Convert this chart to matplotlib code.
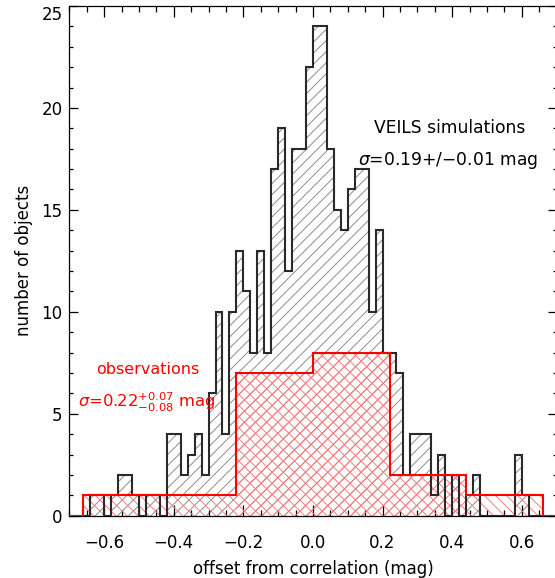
import matplotlib

matplotlib.use("Agg")
import matplotlib.pyplot as plt
import numpy as np
from matplotlib.ticker import FixedLocator, MultipleLocator

# VEILS simulations: counts in 0.02 mag bins from -0.70 to 0.70
sim_edges = np.linspace(-0.70, 0.70, 71)
sim_counts = [0, 0, 0, 1, 1, 0, 1, 2, 2, 1,
              0, 1, 1, 0, 4, 4, 2, 3, 4, 2,
              6, 10, 4, 10, 13, 11, 8, 13, 8, 17,
              19, 12, 18, 18, 22, 24, 24, 18, 15, 14,
              16, 17, 17, 10, 14, 8, 8, 7, 2, 4,
              4, 4, 1, 3, 0, 2, 0, 1, 2, 0,
              0, 0, 0, 0, 3, 1, 0, 0, 0, 0]

# observations: 0.22 mag bins
obs_edges = [-0.66, -0.44, -0.22, 0.00, 0.22, 0.44, 0.66]
obs_counts = [1, 1, 7, 8, 2, 1]
obs_cross = [False, False, True, True, True, False]   # bins with cross hatching

xlim = (-0.70, 0.70)
xtick_values = [-0.6, -0.4, -0.2, 0.0, 0.2, 0.4, 0.6]
xtick_labels = ["\u22120.6", "\u22120.4", "\u22120.2", "0.0", "0.2", "0.4", "0.6"]
ytick_values = [0, 5, 10, 15, 20, 25]

plt.rcParams["hatch.linewidth"] = 0.7
fig = plt.figure(figsize=(5.55, 5.78), dpi=100)
ax = fig.add_axes([0.125, 0.1078, 0.8778, 0.8818])
ax.set_xlim(*xlim)
ax.set_ylim(0, 25)

# hatched fills
ax.stairs(sim_counts, sim_edges, fill=True, facecolor="none",
          edgecolor="#8c8c8c", hatch="///", lw=0, zorder=1)
ax.stairs(obs_counts, obs_edges, fill=True, facecolor="none",
          edgecolor="#ff7a7a", hatch="\\\\\\", lw=0, zorder=2)
ax.stairs(np.where(obs_cross, obs_counts, 0), obs_edges, fill=True,
          facecolor="none", edgecolor="#ff7a7a", hatch="///", lw=0, zorder=2)

# outlines
ax.stairs(sim_counts, sim_edges, color="#2a2a2a", lw=1.5, zorder=3)
red_edges = np.concatenate([[xlim[0]], obs_edges, [xlim[1]]])
red_counts = np.concatenate([[0], obs_counts, [0]])
ax.stairs(red_counts, red_edges, color="red", lw=1.5, zorder=4)

ax.xaxis.set_major_locator(FixedLocator(xtick_values))
ax.set_xticklabels(xtick_labels)
ax.xaxis.set_minor_locator(MultipleLocator(0.05))
ax.yaxis.set_major_locator(FixedLocator(ytick_values))
ax.yaxis.set_minor_locator(MultipleLocator(1))
ax.tick_params(which="both", direction="in", top=True, right=True,
               labelsize=12, width=0.9)
ax.tick_params(axis="x", which="major", length=8, pad=13)
ax.tick_params(axis="x", which="minor", length=4.3)
ax.tick_params(axis="y", which="major", length=6.5, pad=5)
ax.tick_params(axis="y", which="minor", length=3)
ax.get_yticklabels()[-1].set_verticalalignment("top")
for s in ax.spines.values():
    s.set_linewidth(0.9)

ax.set_xlabel("offset from correlation (mag)", fontsize=12, labelpad=6)
ax.set_ylabel("number of objects", fontsize=12, labelpad=6)

ax.text(0.394, 19.0, "VEILS simulations", fontsize=12.3, ha="center", va="center")
ax.text(0.388, 17.4, r"$\sigma$=0.19+/$-$0.01 mag", fontsize=12.3,
        ha="center", va="center")
ax.text(-0.475, 7.15, "observations", fontsize=11.5, color="red",
        ha="center", va="center")
ax.text(-0.675, 5.55, r"$\sigma$=0.22$^{+0.07}_{-0.08}$ mag", fontsize=11.8,
        color="red", ha="left", va="center")

fig.savefig("out.png", dpi=100, facecolor="white")
